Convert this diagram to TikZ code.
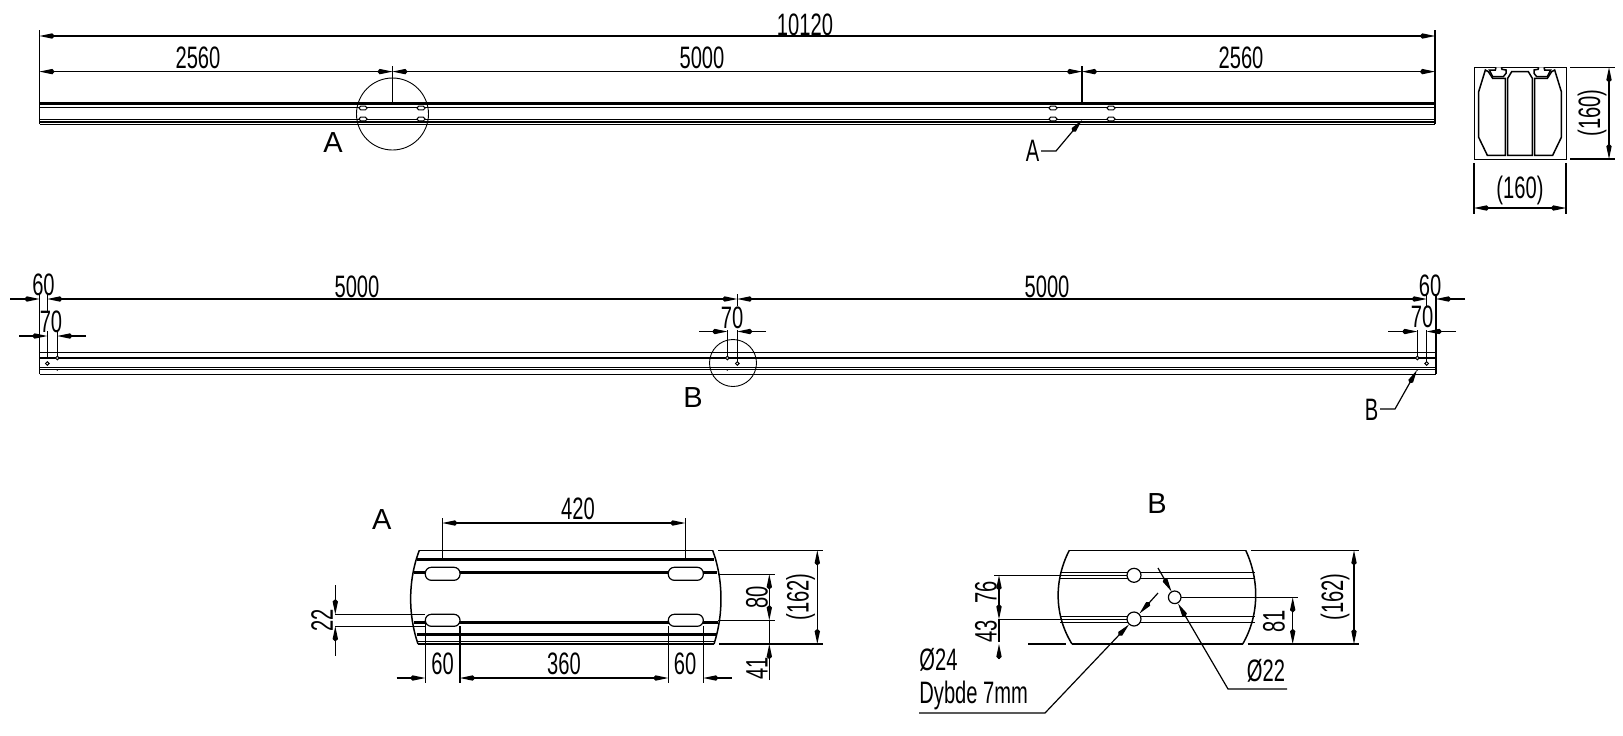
\documentclass[tikz,border=0pt]{standalone}
\usepackage{fontspec}
\setmainfont[FakeStretch=0.65]{Liberation Sans}
\newfontfamily\wideF{Liberation Sans}
\usetikzlibrary{arrows.meta}
\tikzset{
  >={Kite[length=7.6pt,width=2.7pt,inset=1.2pt]},
  dimline/.style={line width=.6pt,black},
  extline/.style={line width=.55pt,black},
  thinline/.style={line width=.45pt,black},
  midline/.style={line width=.75pt,black},
  heavy/.style={line width=1.5pt,black},
  hole/.style={line width=.5pt,black,fill=white},
  lab/.style={inner sep=0pt,font=\fontsize{15.5}{15.5}\selectfont},
  vlab/.style={lab,rotate=90},
  biglab/.style={inner sep=0pt,font=\wideF\fontsize{14.5}{14.5}\selectfont},
}
\begin{document}
\begin{tikzpicture}[x=0.5pt,y=-0.5pt]
\useasboundingbox (0,0) rectangle (1623,735);
% ---------- top beam
\draw[heavy] (39.5,103.5) -- (1435,103.5);
\foreach \yy in {107.3,119.5,122,124.3}{\draw[midline] (39.5,\yy) -- (1435,\yy);}
\foreach \xx/\yy in {363/108,363/119,421/108,421/119,1053/108,1053/119,1111/108,1111/119}{
  \draw[hole,rounded corners=.8pt] (\xx-4,\yy-1.8) rectangle (\xx+4,\yy+1.8);}
\draw[thinline] (392.5,114) circle (36);
\draw[extline] (39.5,30) -- (39.5,124.3);
\draw[extline] (1435,30) -- (1435,124.3);
\draw[extline] (392.5,66) -- (392.5,103);
\draw[extline] (1082,66) -- (1082,103);
\draw[dimline,<->] (39.5,36) -- (1435,36);
\draw[dimline,<->] (39.5,71.6) -- (392.5,71.6);
\draw[dimline,<->] (392.5,71.6) -- (1082,71.6);
\draw[dimline,<->] (1082,71.6) -- (1435,71.6);
\node[lab] (t10120) at (805,25) {10120};
\node[lab] (t2560a) at (198,58) {2560};
\node[lab] (t5000a) at (702,58) {5000};
\node[lab] (t2560b) at (1241,58) {2560};
\node[biglab] (secA) at (333,143) {A};
\node[lab] (markA) at (1032.7,151) {A};
\draw[dimline,->] (1041,151) -- (1056,151) -- (1082,120);
% ---------- profile
\begin{scope}[shift={(1470,62)},scale=1/3]
  \draw[thinline] (12,16) rectangle (288,291);
  \draw[midline] (113,49) -- (125,29) -- (175,29) -- (187,49) -- (187,280) -- (113,280) -- cycle;
\end{scope}
\foreach \sx/\mx in {1470/1,1570/-1}{
\begin{scope}[shift={(\sx,62)},xscale=\mx/3,yscale=1/3]
  \draw[midline] (46,24) -- (26,89) -- (26,226) -- (52,280) -- (106,280) -- (106,49) -- (68,49) -- (55,29) -- cycle;
  \draw[midline,fill=white] (78,16) -- (76,24) -- (58,24) -- (68,44) -- (100,44) -- (108,34) -- (108,24) -- (96,22) -- (94,16);
\end{scope}}
\draw[extline] (1570,67.3) -- (1615,67.3);
\draw[extline] (1570,159) -- (1615,159);
\draw[dimline,<->] (1609,67.3) -- (1609,159);
\node[vlab] (t160v) at (1592,113) {(160)};
\draw[extline] (1474,163) -- (1474,214);
\draw[extline] (1566,163) -- (1566,214);
\draw[dimline,<->] (1474,208) -- (1566,208);
\node[lab] (t160h) at (1520,190) {(160)};
% ---------- second beam
\draw[heavy,line width=1.1pt] (39.5,357.7) -- (1436,357.7);
\foreach \yy in {352.3,367.5,369.5,374.3}{\draw[midline] (39.5,\yy) -- (1436,\yy);}
\draw[extline] (39.5,294) -- (39.5,374.3);
\draw[extline] (1436,294) -- (1436,374.3);
\draw[extline] (47.3,294) -- (47.3,311);
\draw[extline] (47.3,331) -- (47.3,357);
\draw[extline] (57.3,331) -- (57.3,357);
\draw[extline] (737.3,294) -- (737.3,306);
\draw[extline] (737.3,330) -- (737.3,363);
\draw[extline] (727.3,330) -- (727.3,357);
\draw[extline] (1417.3,330) -- (1417.3,357);
\draw[extline] (1426.7,294) -- (1426.7,306);
\draw[extline] (1426.7,330) -- (1426.7,363);
\foreach \xx/\yy in {47.3/363.5,57.3/358,727.3/358,737.3/363.5,1417.3/358,1426.7/363.5}{
  \draw[hole] (\xx,\yy) circle (1.8);}
\foreach \xx in {57.3,727.3,1417.3}{\fill (\xx,370) circle (.8);}
\draw[thinline] (733,363) circle (23.5);
\draw[dimline,->] (10,299) -- (39.5,299);
\draw[dimline,<->] (47.3,299) -- (737.3,299);
\draw[dimline,<->] (737.3,299) -- (1426.7,299);
\draw[dimline,->] (1465,299) -- (1436,299);
\draw[dimline,->] (19,336) -- (47.3,336);
\draw[dimline,->] (86,336) -- (57.3,336);
\draw[dimline,->] (699,331.5) -- (727.3,331.5);
\draw[dimline,->] (766,331.5) -- (737.3,331.5);
\draw[dimline,->] (1388,331.5) -- (1417.3,331.5);
\draw[dimline,->] (1456,331.5) -- (1426.7,331.5);
\node[lab] (t60l) at (43.5,285) {60};
\node[lab] (t70l) at (51,321.5) {70};
\node[lab] (t5000l) at (357,287) {5000};
\node[lab] (t70c) at (732,318) {70};
\node[lab] (t5000r) at (1047,287) {5000};
\node[lab] (t70r) at (1422,317) {70};
\node[lab] (t60r) at (1430,286) {60};
\node[biglab] (secB) at (693,398) {B};
\node[lab] (markB) at (1371.7,410) {B};
\draw[dimline,->] (1380,409) -- (1395,409) -- (1417,370);
% ---------- detail A
\draw[thinline] (419.3,550.3) -- (712.7,550.3);
\draw[thinline] (418,641.7) -- (714,641.7);
\draw[midline,line width=.9pt] (418,643.9) -- (714,643.9);
\draw[heavy] (416.7,559.3) -- (714,559.3);
\draw[heavy] (414,572.3) -- (717,572.3);
\draw[heavy] (414,622.3) -- (718,622.3);
\draw[heavy] (416.7,634.7) -- (716.7,634.7);
\draw[midline] (419.3,550.3) .. controls (408,580) and (408,615) .. (418,644);
\draw[midline] (712.7,550.3) .. controls (723.5,580) and (723.5,615) .. (714,644);
\foreach \xa/\xb in {425.3/460,668.3/703.3}{
  \draw[hole,line width=.6pt,rounded corners=3pt] (\xa,567.3) rectangle (\xb,580.3);
  \draw[hole,line width=.6pt,rounded corners=3pt] (\xa,614.3) rectangle (\xb,626.3);}
\draw[extline] (442.3,518) -- (442.3,561);
\draw[extline] (685.3,518) -- (685.3,561);
\draw[dimline,<->] (442.3,523) -- (685.3,523);
\node[lab] (t420) at (578,509) {420};
\node[biglab] (hdA) at (381.7,520) {A};
\draw[extline] (335,614.3) -- (425.3,614.3);
\draw[extline] (335,626.3) -- (425.3,626.3);
\draw[dimline,->] (335.3,585) -- (335.3,614.3);
\draw[dimline,->] (335.3,655.7) -- (335.3,626.3);
\node[vlab] (t22) at (322,620) {22};
\draw[extline] (425.3,620) -- (425.3,683);
\draw[extline] (460,626) -- (460,683);
\draw[extline] (668.3,626) -- (668.3,683);
\draw[extline] (703.3,626) -- (703.3,683);
\draw[dimline,->] (396.5,678) -- (425.3,678);
\draw[dimline,<->] (460,678) -- (668.3,678);
\draw[dimline,->] (731.7,678) -- (703.3,678);
\node[lab] (t60a) at (442.5,663.5) {60};
\node[lab] (t360) at (564,664) {360};
\node[lab] (t60b) at (685,663.5) {60};
\draw[extline] (718,574.3) -- (775,574.3);
\draw[extline] (718,620.3) -- (775,620.3);
\draw[extline] (718,550.3) -- (823,550.3);
\draw[extline] (719,644) -- (823,644);
\draw[dimline,<->] (769.3,574.3) -- (769.3,620.3);
\draw[dimline] (769.3,620.3) -- (769.3,644);
\draw[dimline,->] (769.3,680) -- (769.3,644);
\draw[dimline,<->] (817.3,550.3) -- (817.3,644);
\node[vlab] (t80) at (757,597) {80};
\node[vlab] (t41) at (757,668) {41};
\node[vlab] (t162a) at (800.7,597) {(162)};
% ---------- detail B
\draw[thinline] (1069.3,550.3) -- (1245.7,550.3);
\draw[midline,line width=1.2pt] (1072,644) -- (1242.7,644);
\draw[midline] (1069.3,550.3) .. controls (1054,580) and (1054,615) .. (1072,644);
\draw[midline] (1245.7,550.3) .. controls (1259.5,580) and (1259.5,615) .. (1242.7,644);
\foreach \yy in {572.3,578.3,616.3,622.3}{\draw[extline] (1060,\yy) -- (1254.5,\yy);}
\draw[hole,line width=.6pt] (1134,575.3) circle (7);
\draw[hole,line width=.6pt] (1134,619) circle (7);
\draw[hole,line width=.6pt] (1174.7,597.3) circle (6.3);
\node[biglab] (hdB) at (1157,504) {B};
\draw[extline] (994,575.3) -- (1127,575.3);
\draw[extline] (998,619.3) -- (1127,619.3);
\draw[extline] (1028,644) -- (1065.7,644);
\draw[dimline,<->] (999,575.3) -- (999,619.3);
\draw[dimline] (999,619.3) -- (999,642);
\draw[dimline,->] (999,659) -- (999,644);
\node[vlab] (t76) at (986,592) {76};
\node[vlab] (t43) at (986,631.7) {43};
\draw[extline] (1181,597.3) -- (1297.7,597.3);
\draw[extline] (1247.7,644) -- (1359,644);
\draw[extline] (1251,550.3) -- (1359,550.3);
\draw[dimline,<->] (1292.7,597.3) -- (1292.7,644);
\draw[dimline,<->] (1354,550.3) -- (1354,644);
\node[vlab] (t81) at (1274,621.7) {81};
\node[vlab] (t162b) at (1335,597) {(162)};
\node[lab,anchor=west] (tphi24) at (919,659.5) {Ø24};
\node[lab,anchor=west] (tdybde) at (919,695.5) {Dybde 7mm};
\draw[dimline,->] (919,713) -- (1045,713) -- (1129,624.5);
\draw[dimline,->] (1158,593) -- (1139.5,613.5);
\draw[dimline,->] (1158,568) -- (1171.5,591.5);
\draw[dimline,->] (1287,689) -- (1228,689) -- (1178,603.5);
\node[lab] (tphi22) at (1266,671) {Ø22};
\end{tikzpicture}
\end{document}
